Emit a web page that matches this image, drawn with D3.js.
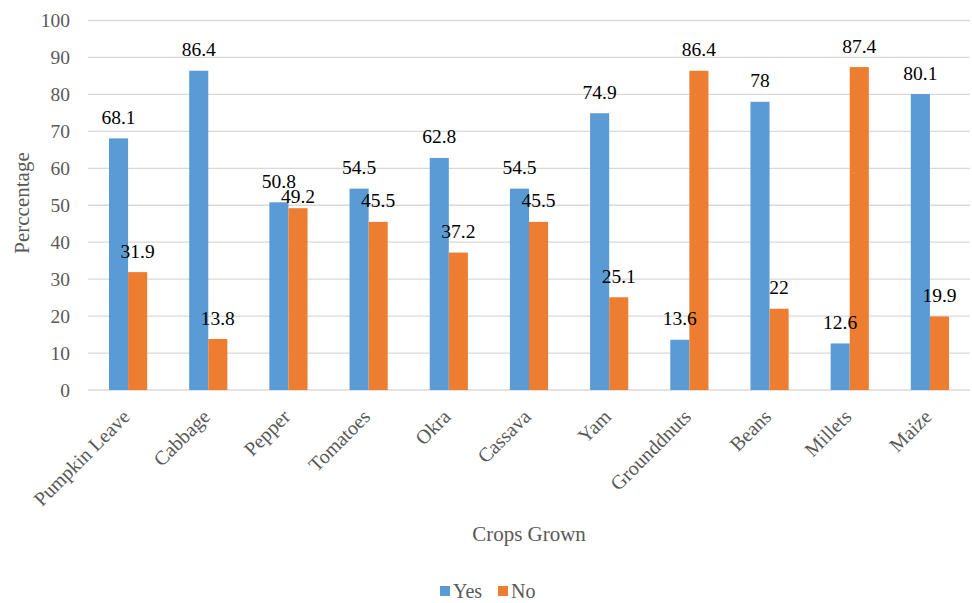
<!DOCTYPE html>
<html>
<head>
<meta charset="utf-8">
<script src="https://cdn.jsdelivr.net/npm/d3@7"></script>
<style>
  body { margin: 0; background: #fff; }
  text { font-family: "Liberation Serif", "Times New Roman", serif; }
</style>
</head>
<body>
<div id="container"></div>
<script>
const w = 972;
const h = 603;

const crops = ['Pumpkin Leave', 'Cabbage', 'Pepper', 'Tomatoes', 'Okra', 'Cassava',
               'Yam', 'Grounddnuts', 'Beans', 'Millets', 'Maize'];
const series = ['Yes', 'No'];
const yesValues = [68.1, 86.4, 50.8, 54.5, 62.8, 54.5, 74.9, 13.6, 78, 12.6, 80.1];
const noValues = [31.9, 13.8, 49.2, 45.5, 37.2, 45.5, 25.1, 86.4, 22, 87.4, 19.9];
const yTicks = [0, 10, 20, 30, 40, 50, 60, 70, 80, 90, 100];

const colors = { Yes: '#5B9BD5', No: '#ED7D31' };
const plotLeft = 88;
const plotRight = 970;
const plotTop = 20.5;
const plotBottom = 390;
const labelGap = 14.5;

const svg = d3.select('#container')
              .append('svg')
              .attr('width', w)
              .attr('height', h);

// Scales
const x0 = d3.scaleBand()
             .domain(crops)
             .range([plotLeft, plotRight]);

const clusterWidth = x0.bandwidth() / 2.1; // excel gap width 110%
const x1 = d3.scaleBand()
             .domain(series)
             .range([(x0.bandwidth() - clusterWidth) / 2, (x0.bandwidth() + clusterWidth) / 2]);

const yScale = d3.scaleLinear()
                 .domain([0, 100])
                 .range([plotBottom, plotTop]);

// Gridlines
svg.append('g')
   .selectAll('line')
   .data(yTicks)
   .enter()
   .append('line')
   .attr('x1', plotLeft)
   .attr('x2', plotRight)
   .attr('y1', d => yScale(d))
   .attr('y2', d => yScale(d))
   .attr('stroke', '#D9D9D9')
   .attr('stroke-width', 1.3);

// Y axis labels
const yAxis = d3.axisLeft(yScale).tickValues(yTicks).tickSize(0).tickPadding(0);
const yAxisG = svg.append('g')
   .attr('transform', `translate(70, 0)`)
   .call(yAxis);
yAxisG.select('.domain').remove();
yAxisG.selectAll('text')
      .attr('fill', '#595959')
      .style('font-size', '19.5px')
      .style('font-family', '"Liberation Serif", serif');

// Bars
const rows = crops.map((c, i) => ({ crop: c, values: [
  { key: 'Yes', value: yesValues[i] },
  { key: 'No', value: noValues[i] }
]}));

const groups = svg.append('g')
   .selectAll('g')
   .data(rows)
   .enter()
   .append('g')
   .attr('transform', d => `translate(${x0(d.crop)}, 0)`);

groups.selectAll('rect')
      .data(d => d.values)
      .enter()
      .append('rect')
      .attr('x', d => x1(d.key))
      .attr('y', d => yScale(d.value))
      .attr('width', x1.bandwidth())
      .attr('height', d => yScale(0) - yScale(d.value))
      .attr('fill', d => colors[d.key]);

// label y, pushing the No label under the Yes one when they would collide
function labelY(d, i, row) {
  const yesY = yScale(row.values[0].value) - labelGap;
  const y = yScale(d.value) - labelGap;
  if (i === 1 && Math.abs(y - yesY) < 15) return yesY + 15;
  return y;
}

groups.each(function(row) {
  d3.select(this)
    .selectAll('text')
    .data(row.values)
    .enter()
    .append('text')
    .attr('x', d => x1(d.key) + x1.bandwidth() / 2)
    .attr('y', (d, i) => labelY(d, i, row))
    .attr('text-anchor', 'middle')
    .attr('fill', '#000')
    .style('font-size', '19.5px')
    .text(d => d.value);
});

// X axis labels
const xAxis = d3.axisBottom(x0).tickSize(0).tickPadding(0);
const xAxisG = svg.append('g')
   .attr('transform', `translate(0, ${plotBottom})`)
   .call(xAxis);
xAxisG.select('.domain').remove();
xAxisG.selectAll('text')
      .attr('fill', '#595959')
      .attr('text-anchor', 'end')
      .attr('dy', null)
      .attr('y', 0)
      .attr('transform', 'translate(3, 28) rotate(-45)')
      .style('font-size', '20px')
      .style('font-family', '"Liberation Serif", serif');

// Axis titles
svg.append('text')
   .attr('transform', `translate(29, 203) rotate(-90)`)
   .attr('text-anchor', 'middle')
   .attr('fill', '#595959')
   .style('font-size', '21px')
   .text('Perccentage');

svg.append('text')
   .attr('x', 529)
   .attr('y', 541)
   .attr('text-anchor', 'middle')
   .attr('fill', '#595959')
   .style('font-size', '21px')
   .text('Crops Grown');

// Legend
const legend = svg.append('g')
   .selectAll('g')
   .data(series)
   .enter()
   .append('g')
   .attr('transform', (d, i) => `translate(${440 + i * 58}, 0)`);

legend.append('rect')
      .attr('x', 0)
      .attr('y', 586)
      .attr('width', 10)
      .attr('height', 10)
      .attr('fill', d => colors[d]);

legend.append('text')
      .attr('x', 13)
      .attr('y', 598)
      .attr('fill', '#595959')
      .style('font-size', '20px')
      .text(d => d);
</script>
</body>
</html>
